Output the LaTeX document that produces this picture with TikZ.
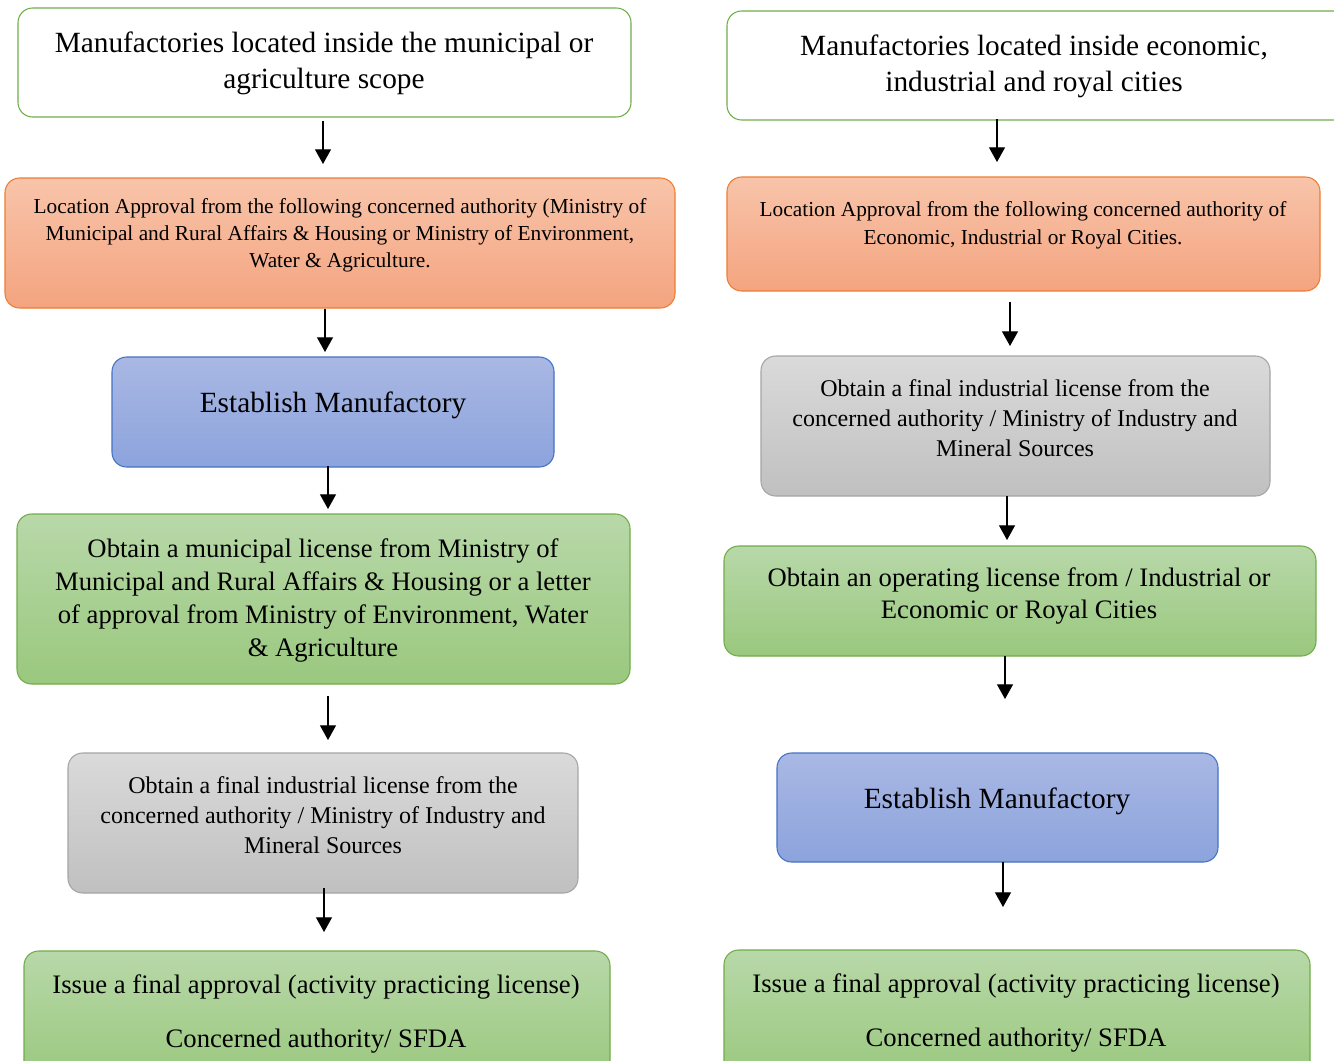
\documentclass[tikz,border=0pt]{standalone}
\usepackage{fontspec}
\setmainfont{Liberation Serif}
\usetikzlibrary{arrows.meta}
\definecolor{bOrange}{HTML}{ED7D31}
\definecolor{tOrange}{HTML}{F8C4AA}
\definecolor{uOrange}{HTML}{F4A47F}
\definecolor{bBlue}{HTML}{4472C4}
\definecolor{tBlue}{HTML}{A9B8E4}
\definecolor{uBlue}{HTML}{8CA3DC}
\definecolor{bGreen}{HTML}{70AD47}
\definecolor{tGreen}{HTML}{B8D8A9}
\definecolor{uGreen}{HTML}{9AC87E}
\definecolor{bGray}{HTML}{A5A5A5}
\definecolor{tGray}{HTML}{DADADA}
\definecolor{uGray}{HTML}{C0C0C0}
\newcommand\fs[2]{\fontsize{#1}{#2}\selectfont}
\newcommand\mybox[6]{%
  \node[#2, minimum width={(#5-#3)*0.75pt}, minimum height={(#6-#4)*0.75pt}] (#1) at ({(#3+#5)/2},{(#4+#6)/2}) {};}
\tikzset{
  box/.style={rounded corners=11pt, line width=0.8pt, inner sep=0pt},
  whitebox/.style={box, draw=bGreen, fill=white},
  orangebox/.style={box, draw=bOrange, top color=tOrange, bottom color=uOrange},
  bluebox/.style={box, draw=bBlue, top color=tBlue, bottom color=uBlue},
  greenbox/.style={box, draw=bGreen, top color=tGreen, bottom color=uGreen},
  graybox/.style={box, draw=bGray, top color=tGray, bottom color=uGray},
  txt/.style={align=center, inner sep=0pt, text=black},
  arr/.style={-{Triangle[width=12pt,length=11pt]}, line width=0.8pt}
}
\begin{document}
\begin{tikzpicture}[x=0.75pt,y=-0.75pt]
\useasboundingbox (0,0) rectangle (1334,1060);
\clip (0,0) rectangle (1334,1060);
\fill[white] (0,0) rectangle (1334,1060);
% left column boxes
\mybox{L1}{whitebox}{18}{8}{631}{117}
\mybox{L2}{orangebox}{5}{178}{675}{308}
\mybox{L3}{bluebox}{112}{357}{554}{467}
\mybox{L4}{greenbox}{17}{514}{630}{684}
\mybox{L5}{graybox}{68}{753}{578}{893}
\mybox{L6}{greenbox}{24}{951}{610}{1080}
% right column boxes
\mybox{R1}{whitebox}{727}{11}{1350}{120}
\mybox{R2}{orangebox}{727}{177}{1320}{291}
\mybox{R3}{graybox}{761}{356}{1270}{496}
\mybox{R4}{greenbox}{724}{546}{1316}{656}
\mybox{R5}{bluebox}{777}{753}{1218}{862}
\mybox{R6}{greenbox}{724}{950}{1310}{1080}
% texts
\node[txt, font=\fs{22pt}{27pt}] (tL1) at (324,63) {Manufactories located inside the municipal or\\agriculture scope};
\node[txt, font=\fs{16pt}{20.25pt}] (tL2) at (340,235) {Location Approval from the following concerned authority (Ministry of\\Municipal and Rural Affairs \& Housing or Ministry of Environment,\\Water \& Agriculture.};
\node[txt, font=\fs{22pt}{27pt}] (tL3) at (333,405) {Establish Manufactory};
\node[txt, font=\fs{20pt}{24.75pt}] (tL4) at (323,600) {Obtain a municipal license from Ministry of\\Municipal and Rural Affairs \& Housing or a letter\\of approval from Ministry of Environment, Water\\\& Agriculture};
\node[txt, font=\fs{18pt}{22.5pt}] (tL5) at (323,815.5) {Obtain a final industrial license from the\\concerned authority / Ministry of Industry and\\Mineral Sources};
\node[txt, font=\fs{20pt}{40.5pt}] (tL6) at (316,1014) {Issue a final approval (activity practicing license)\\Concerned authority/ SFDA};
\node[txt, font=\fs{22pt}{27pt}] (tR1) at (1034,66) {Manufactories located inside economic,\\industrial and royal cities};
\node[txt, font=\fs{16pt}{21pt}] (tR2) at (1023,225.5) {Location Approval from the following concerned authority of\\Economic, Industrial or Royal Cities.};
\node[txt, font=\fs{18pt}{22.5pt}] (tR3) at (1015,418) {Obtain a final industrial license from the\\concerned authority / Ministry of Industry and\\Mineral Sources};
\node[txt, font=\fs{20pt}{24pt}] (tR4) at (1019,596) {Obtain an operating license from / Industrial or\\Economic or Royal Cities};
\node[txt, font=\fs{22pt}{27pt}] (tR5) at (997,801) {Establish Manufactory};
\node[txt, font=\fs{20pt}{40.5pt}] (tR6) at (1016,1013) {Issue a final approval (activity practicing license)\\Concerned authority/ SFDA};
% arrow end points
\coordinate (a1s) at (323,121); \coordinate (a1e) at (323,164);
\coordinate (a2s) at (325,309); \coordinate (a2e) at (325,352);
\coordinate (a3s) at (328,466); \coordinate (a3e) at (328,509);
\coordinate (a4s) at (328,696); \coordinate (a4e) at (328,740);
\coordinate (a5s) at (324,888); \coordinate (a5e) at (324,932);
\coordinate (b1s) at (997,119); \coordinate (b1e) at (997,162);
\coordinate (b2s) at (1010,302); \coordinate (b2e) at (1010,346);
\coordinate (b3s) at (1007,496); \coordinate (b3e) at (1007,540);
\coordinate (b4s) at (1005,656); \coordinate (b4e) at (1005,699);
\coordinate (b5s) at (1003,862); \coordinate (b5e) at (1003,907);
\foreach \p in {a1,a2,a3,a4,a5,b1,b2,b3,b4,b5}{\draw[arr] (\p s) -- (\p e);}
\end{tikzpicture}
\end{document}
